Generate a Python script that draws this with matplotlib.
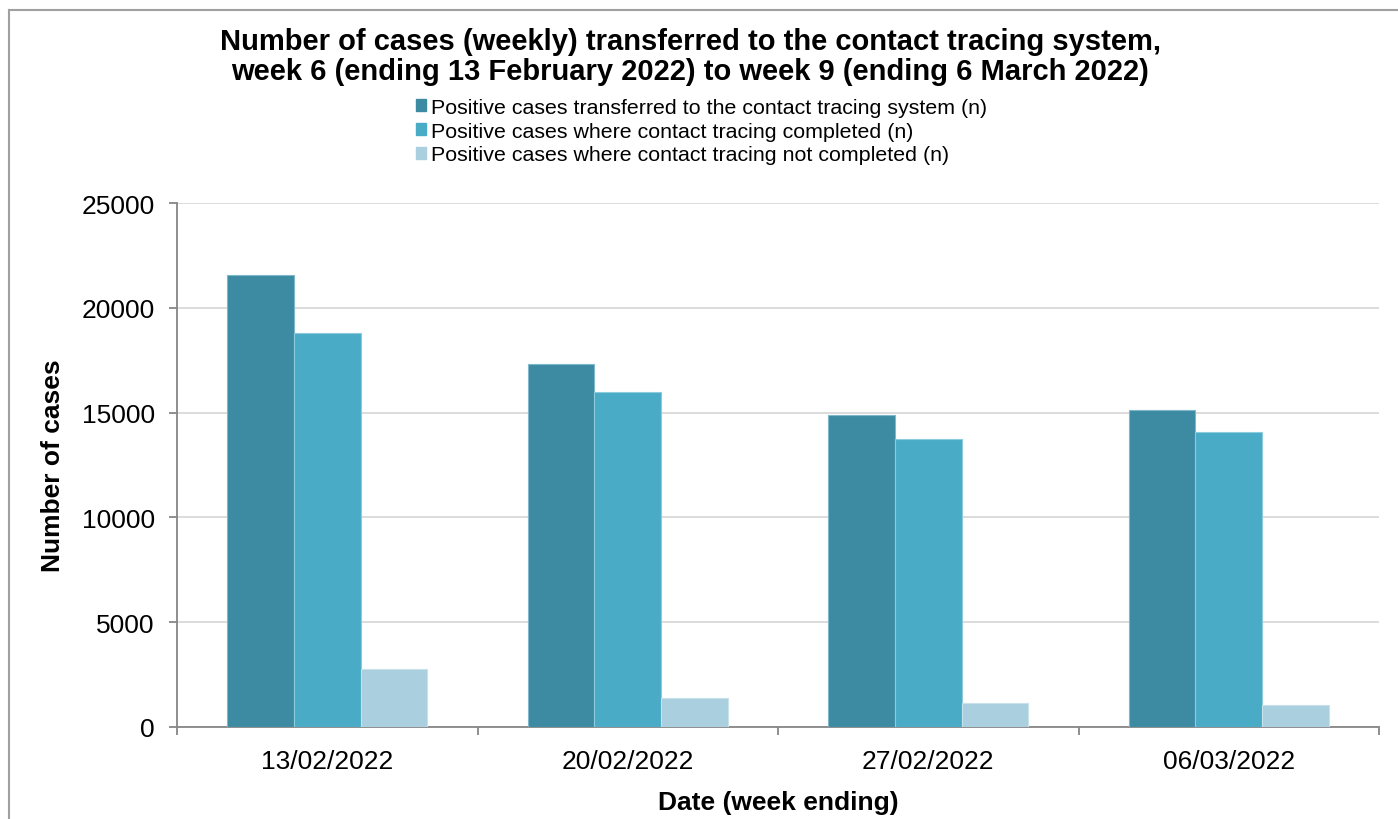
import matplotlib
matplotlib.use("Agg")
import matplotlib.pyplot as plt
import numpy as np
from matplotlib.patches import Rectangle
from matplotlib.lines import Line2D

plt.rcParams['font.family'] = ['Liberation Sans', 'DejaVu Sans']

categories = ["13/02/2022", "20/02/2022", "27/02/2022", "06/03/2022"]
series_names = [
    "Positive cases transferred to the contact tracing system (n)",
    "Positive cases where contact tracing completed (n)",
    "Positive cases where contact tracing not completed (n)",
]
transferred = [21550, 17320, 14900, 15140]
completed = [18800, 15960, 13750, 14090]
not_completed = [2750, 1360, 1150, 1050]
y_ticks = [0, 5000, 10000, 15000, 20000, 25000]
colors = ["#3C8BA3", "#4AABC6", "#AACFDE"]
edge_colors = ["#7FB8CA", "#8CCBDC", "#C8E1EA"]

W, H = 1398, 820
fig = plt.figure(figsize=(W / 100, H / 100), dpi=100)
ax = fig.add_axes([177 / W, 1 - 728 / H, (1379 - 177) / W, (728 - 204) / H])

x = np.arange(len(categories))
bw = 2 / 9
data = [transferred, completed, not_completed]
for i, (vals, c, ec) in enumerate(zip(data, colors, edge_colors)):
    ax.bar(x + (i - 1) * bw, vals, width=bw, color=c, edgecolor=ec,
           linewidth=0.8, label=series_names[i], zorder=3)

ax.set_xlim(-0.5, len(categories) - 0.5)
ax.set_ylim(0, 25000)
ax.set_yticks(y_ticks)
ax.set_yticklabels([str(v) for v in y_ticks], fontsize=19)
ax.yaxis.grid(True, color="#D9D9D9", linewidth=1.3, zorder=0)
ax.set_axisbelow(True)

ax.set_xticks(x)
ax.set_xticklabels(categories, fontsize=19)
ax.tick_params(axis='x', which='major', length=0, pad=16)
ax.set_xticks(np.arange(-0.5, len(categories), 1.0), minor=True)
ax.tick_params(axis='x', which='minor', length=6, color="#868686", width=1.3)
ax.tick_params(axis='y', length=6, color="#868686", width=1.3, pad=10)

for s in ['top', 'right']:
    ax.spines[s].set_visible(False)
for s in ['left', 'bottom']:
    ax.spines[s].set_color("#868686")
    ax.spines[s].set_linewidth(1.3)

ax.set_xlabel("Date (week ending)", fontsize=19, fontweight='bold', labelpad=12)
ax.set_ylabel("Number of cases", fontsize=19, fontweight='bold', labelpad=12)

fig.text(690 / W, 1 - 57 / H,
         "Number of cases (weekly) transferred to the contact tracing system,\n"
         "week 6 (ending 13 February 2022) to week 9 (ending 6 March 2022)",
         ha='center', va='center', fontsize=21, fontweight='bold', linespacing=1.13)

handles = [Rectangle((0, 0), 1, 1, color=c) for c in colors]
leg = fig.legend(handles, series_names, loc='upper left',
                 bbox_to_anchor=(416 / W, 1 - 99 / H), frameon=False,
                 fontsize=15.4, handlelength=0.48, handleheight=0.48,
                 handletextpad=0.2, labelspacing=0.22, borderpad=0, borderaxespad=0)

fig.add_artist(Line2D([9 / W, 9 / W], [0, 1 - 11 / H], transform=fig.transFigure,
                      color="#A0A0A0", linewidth=1.5))
fig.add_artist(Line2D([9 / W, 1], [1 - 11 / H, 1 - 11 / H], transform=fig.transFigure,
                      color="#A0A0A0", linewidth=1.5))

fig.savefig("out.png", dpi=100)
